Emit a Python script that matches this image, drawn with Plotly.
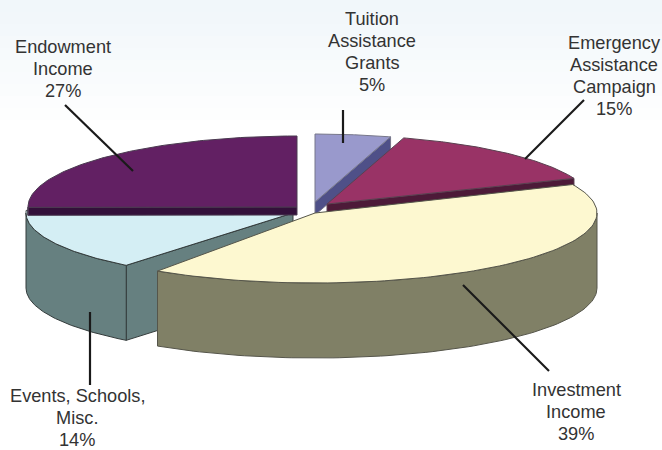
import numpy as np
import plotly.graph_objects as go

# --- data ---
slice_names = [
    ["Tuition", "Assistance", "Grants"],
    ["Emergency", "Assistance", "Campaign"],
    ["Investment", "Income"],
    ["Events, Schools,", "Misc."],
    ["Endowment", "Income"],
]
shares = [5, 15, 39, 14, 27]

# --- styling / geometry of the exploded 3-D pie (pixels) ---
W, H = 662, 450
centres = [(315, 202), (327, 204), (315, 213), (293, 213), (297, 207)]
radii_x = [262, 266, 282, 267, 269]
radii_y = [68, 69, 70, 67, 71]
depths = [13, 9, 75, 75, 8]
rotations = [0, 0, -2.2, 2.5, 0]
top_colors = ["#9999cc", "#993366", "#fdf8d0", "#d4eef4", "#622063"]
wall_colors = ["#4f5088", "#4d1a38", "#808066", "#668080", "#33103a"]
edge_colors = ["#77778a", "#5a4050", "#55554a", "#333b3b", "#4a3a50"]
label_centres = [372, 614, 576, 77, 63]
label_tops = [19, 43, 390, 396, 47]
line_gap = 22
leaders = [
    ((343, 110), (343, 143)),
    ((584, 100), (525, 159)),
    ((549, 371), (463, 285)),
    ((90, 385), (90, 312)),
    ((65, 105), (133, 171)),
]
draw_order = [3, 4, 0, 1, 2]


def warp(a):
    """Foreshorten share-angle a (degrees, clockwise from 12 o'clock)."""
    k = 4 if a <= 180 else 7
    return a - k * np.sin(np.radians(a))


def point(i, t):
    r = np.radians(t)
    cx, cy = centres[i]
    return cx + radii_x[i] * np.sin(r), cy - radii_y[i] * np.cos(r)


def poly(xs, ys, fill, edge):
    xs, ys = list(xs), list(ys)
    return go.Scatter(
        x=xs + [xs[0]], y=ys + [ys[0]], mode="lines", fill="toself",
        fillcolor=fill, line=dict(color=edge, width=1), hoverinfo="skip", showlegend=False,
    )


fig = go.Figure()
cum = np.concatenate([[0], np.cumsum(shares)]) / sum(shares) * 360

for i in draw_order:
    t0 = warp(cum[i]) + rotations[i]
    t1 = warp(cum[i + 1]) + rotations[i]
    d = depths[i]
    cx, cy = centres[i]
    ts = np.linspace(t0, t1, 90)
    ax, ay = point(i, ts)
    wall, edge, top = wall_colors[i], edge_colors[i], top_colors[i]
    # radial walls, only those facing the viewer
    if np.sin(np.radians(t0)) < -1e-6:
        fig.add_trace(poly([cx, ax[0], ax[0], cx], [cy, ay[0], ay[0] + d, cy + d], wall, edge))
    if np.sin(np.radians(t1)) > 1e-6:
        fig.add_trace(poly([cx, ax[-1], ax[-1], cx], [cy, ay[-1], ay[-1] + d, cy + d], wall, edge))
    # outer wall, front-facing part only
    lo, hi = max(t0, 90), min(t1, 270)
    if hi > lo:
        fs = np.linspace(lo, hi, 90)
        fx, fy = point(i, fs)
        fig.add_trace(poly(
            np.concatenate([fx, fx[::-1]]), np.concatenate([fy, fy[::-1] + d]), wall, edge))
    # top surface
    fig.add_trace(poly(
        np.concatenate([[cx], ax]), np.concatenate([[cy], ay]), top, edge))

# leader lines
for (x0, y0), (x1, y1) in leaders:
    fig.add_trace(go.Scatter(
        x=[x0, x1], y=[y0, y1], mode="lines", line=dict(color="#1a1a1a", width=2.2),
        hoverinfo="skip", showlegend=False))

# labels
annotations = []
for names, share, xc, yt in zip(slice_names, shares, label_centres, label_tops):
    for j, txt in enumerate(names + [f"{share}%"]):
        annotations.append(dict(
            x=xc, y=yt + j * line_gap, text=txt, showarrow=False, xanchor="center",
            yanchor="middle", font=dict(family="Liberation Sans", size=18.2, color="#333333")))

# faint backdrop wash at the top of the picture
bands = 10
shapes = []
for b in range(bands):
    f = 1 - b / bands
    c = f"rgb({int(255 - 14 * f)},{int(255 - 8 * f)},{int(255 - 5 * f)})"
    shapes.append(dict(type="rect", x0=0, x1=W, y0=b * 12, y1=(b + 1) * 12, fillcolor=c,
                       line=dict(width=0), layer="below"))

fig.update_layout(
    width=W, height=H, margin=dict(l=0, r=0, t=0, b=0),
    paper_bgcolor="white", plot_bgcolor="white", showlegend=False,
    xaxis=dict(range=[0, W], visible=False, fixedrange=True),
    yaxis=dict(range=[H, 0], visible=False, fixedrange=True),
    annotations=annotations, shapes=shapes,
)
fig.write_html("out.html", config={"displayModeBar": False},
               post_script="document.body.style.margin='0';document.body.style.overflow='hidden';")
